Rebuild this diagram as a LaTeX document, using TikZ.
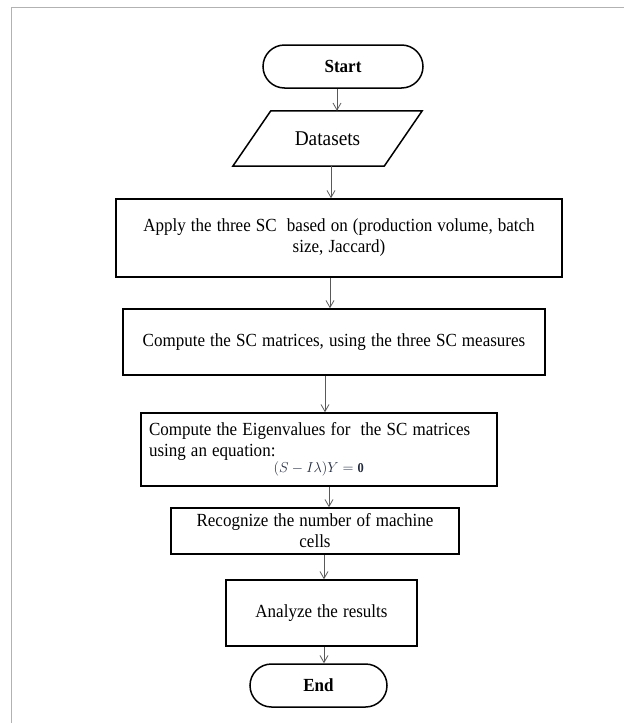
\documentclass[tikz,border=0pt]{standalone}
\usepackage{fontspec}
\setmainfont{Liberation Serif}[FakeStretch=0.92]
\usetikzlibrary{arrows.meta,shapes.misc}
\definecolor{eqc}{RGB}{35,42,62}
\begin{document}
\begin{tikzpicture}[x=1pt,y=-1pt,
  txt/.style={font=\fontsize{18.5}{21}\selectfont,execute at begin node={\spaceskip=5.1pt\relax}},
  box/.style={txt,draw,line width=1.5pt,rectangle,inner sep=0pt,align=center},
  term/.style={draw,line width=1.5pt,rounded rectangle,inner sep=0pt,font=\bfseries\fontsize{18.5}{21}\selectfont},
  arr/.style={draw=black!65,line width=0.8pt,-{Straight Barb[length=7pt,width=8pt]}},
  frame/.style={draw=black!30,line width=1pt}
]
\useasboundingbox (0,0) rectangle (624,723);
\draw[frame] (11,723) -- (11,7) -- (624,7);

\node[term,minimum width=160pt,minimum height=43pt] (start) at (343,66.5) {Start};
\node[font=\fontsize{21}{24}\selectfont,minimum width=151pt,minimum height=55pt,inner sep=0pt] (ds) at (327.5,138.5) {Datasets};
\draw[line width=1.5pt,line join=miter]
  ([xshift=-19pt]ds.south west) -- ([xshift=19pt]ds.north west) --
  ([xshift=19pt]ds.north east) -- ([xshift=-19pt]ds.south east) -- cycle;
\node[box,minimum width=446pt,minimum height=78pt,text width=430pt] (b1) at (339,238)
  {Apply the three SC\ \ based on (production volume, batch\\ size, Jaccard)};
\node[box,minimum width=422pt,minimum height=66pt,text width=410pt] (b2) at (334,342)
  {Compute the SC matrices, using the three SC measures};
\node[box,minimum width=356pt,minimum height=73pt,text width=340pt,align=left] (b3) at (319,449.5)
  {Compute the Eigenvalues for\ \ the SC matrices\\ using an equation:\par
   {\centering\fontsize{13.5}{16}\selectfont\color{eqc}$(S-I\lambda)Y=\mathbf{0}$\par}};
\node[box,minimum width=288pt,minimum height=46pt,text width=280pt] (b4) at (315,531)
  {Recognize the number of machine\\ cells};
\node[box,minimum width=191pt,minimum height=66pt,text width=180pt] (b5) at (321.5,613)
  {Analyze the results};
\node[term,minimum width=137pt,minimum height=43pt] (end) at (318.5,685.5) {End};

\coordinate (a1) at (337,0);
\coordinate (a2) at (331,0);
\coordinate (a3) at (330,0);
\coordinate (a4) at (325,0);
\coordinate (a5) at (329,0);
\coordinate (a6) at (324,0);
\draw[arr] (start.south -| a1) -- (ds.north -| a1);
\draw[arr] (ds.south -| a2) -- (b1.north -| a2);
\draw[arr] (b1.south -| a3) -- (b2.north -| a3);
\draw[arr] (b2.south -| a4) -- (b3.north -| a4);
\draw[arr] (b3.south -| a5) -- (b4.north -| a5);
\draw[arr] (b4.south -| a6) -- (b5.north -| a6);
\draw[arr] (b5.south -| a6) -- (end.north -| a6);
\end{tikzpicture}
\end{document}
